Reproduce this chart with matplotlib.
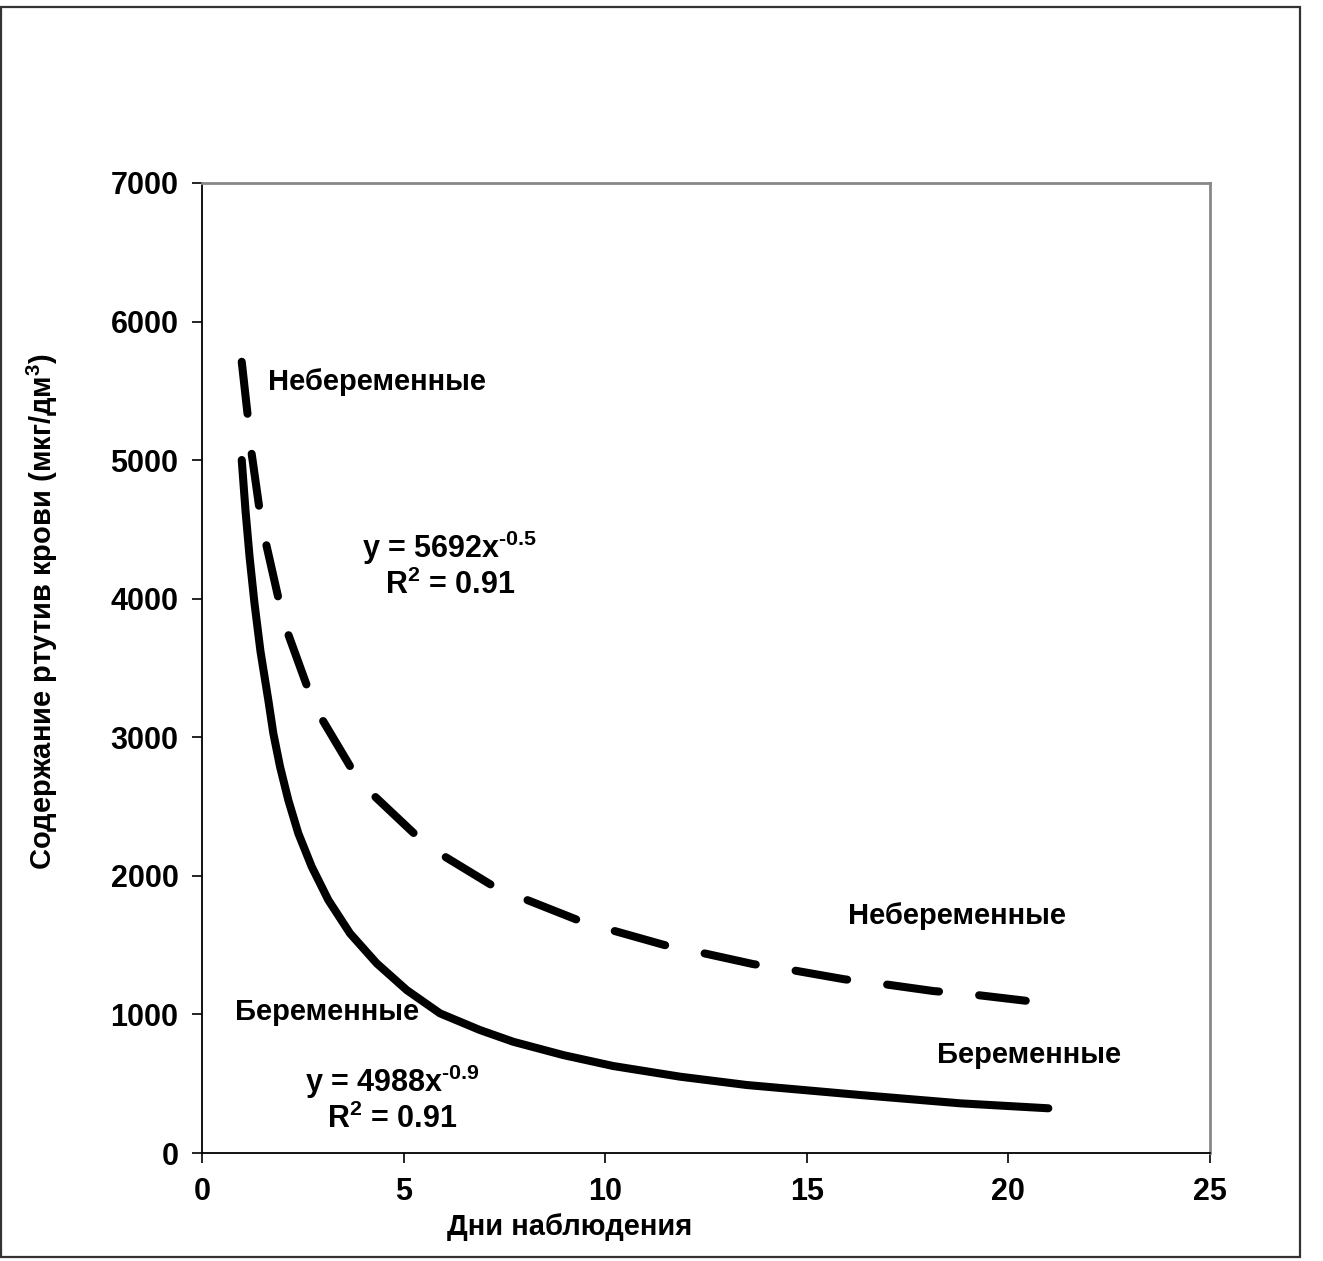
import matplotlib
matplotlib.use('Agg')
import matplotlib.pyplot as plt
from matplotlib.patches import Rectangle

plt.rcParams['font.family'] = ['Liberation Sans', 'DejaVu Sans']
plt.rcParams['font.weight'] = 'bold'
plt.rcParams['mathtext.fontset'] = 'custom'
plt.rcParams['mathtext.rm'] = 'Liberation Sans:bold'
plt.rcParams['mathtext.it'] = 'Liberation Sans:bold'
plt.rcParams['mathtext.bf'] = 'Liberation Sans:bold'
plt.rcParams['mathtext.default'] = 'rm'

# Небеременные (пунктир), точки
nonpreg_x = [0.985, 1.15, 1.23, 1.44, 1.59, 1.92, 2.13, 2.64, 2.99, 3.73, 4.25,
             5.30, 5.96, 7.18, 7.96, 9.28, 10.09, 11.47, 12.27, 13.66, 14.52,
             15.93, 16.76, 18.14, 19.03, 20.43]
nonpreg_y = [5710, 5277, 5049, 4616, 4395, 3971, 3750, 3341, 3124, 2763, 2583,
             2295, 2150, 1934, 1838, 1686, 1614, 1501, 1453, 1364, 1326,
             1254, 1225, 1169, 1147, 1099]

# Беременные (сплошная)
preg_x = [0.985, 1.08, 1.18, 1.30, 1.45, 1.644, 1.768, 1.935, 2.14, 2.388, 2.721,
          3.132, 3.671, 4.333, 5.077, 5.903, 6.89, 7.72, 8.96, 10.20, 11.86,
          13.51, 16.32, 18.80, 20.99]
preg_y = [5001, 4630, 4300, 3970, 3620, 3269, 3029, 2788, 2547, 2307, 2066,
          1826, 1585, 1369, 1176, 1008, 888, 803, 707, 628, 551,
          491, 419, 359, 323]

x_ticks = [0, 5, 10, 15, 20, 25]
y_ticks = [0, 1000, 2000, 3000, 4000, 5000, 6000, 7000]

fig = plt.figure(figsize=(13.23, 12.61), dpi=100)
ax = fig.add_axes([0.1527, 0.0856, 0.7619, 0.7693])

# внешняя рамка
fig.patches.append(Rectangle((0.0008, 0.0032), 0.9818, 0.9912, transform=fig.transFigure,
                             fill=False, edgecolor='#333333', linewidth=1.6))

ax.plot(nonpreg_x, nonpreg_y, color='black', linewidth=5.8, linestyle=(0, (6.5, 5)),
        dash_capstyle='round', solid_capstyle='round', solid_joinstyle='round')
ax.plot(preg_x, preg_y, color='black', linewidth=5.8, solid_capstyle='round',
        solid_joinstyle='round')

ax.set_xlim(0, 25)
ax.set_ylim(0, 7000)
ax.set_xticks(x_ticks)
ax.set_yticks(y_ticks)
ax.tick_params(direction='out', length=7, width=1.2, labelsize=22, pad=10,
               top=False, right=False)
for lab in ax.get_xticklabels() + ax.get_yticklabels():
    lab.set_fontweight('bold')

for s in ['left', 'bottom']:
    ax.spines[s].set_color('black')
    ax.spines[s].set_linewidth(1.3)
for s in ['top', 'right']:
    ax.spines[s].set_color('#888888')
    ax.spines[s].set_linewidth(2)

ax.set_xlabel('Дни наблюдения', fontsize=21, fontweight='bold')
ax.set_ylabel('Содержание ртутив крови (мкг/дм$^{3}$)', fontsize=21, fontweight='bold')
ax.xaxis.set_label_coords(0.365, -0.062)
ax.yaxis.set_label_coords(-0.141, 0.558)

ax.text(1.64, 5564, 'Небеременные', fontsize=21, fontweight='bold', ha='left', va='center')
ax.text(6.15, 4243, r'y = 5692x$^{\text{-0.5}}$' + '\n' + r'R$^{2}$ = 0.91', fontsize=22,
        fontweight='bold', ha='center', va='center', linespacing=1.1)
ax.text(16.02, 1710, 'Небеременные', fontsize=21, fontweight='bold', ha='left', va='center')
ax.text(0.82, 1018, 'Беременные', fontsize=21, fontweight='bold', ha='left', va='center')
ax.text(4.71, 390, r'y = 4988x$^{\text{-0.9}}$' + '\n' + r'R$^{2}$ = 0.91', fontsize=22,
        fontweight='bold', ha='center', va='center', linespacing=1.1)
ax.text(18.23, 707, 'Беременные', fontsize=21, fontweight='bold', ha='left', va='center')

fig.savefig('out.png', dpi=100)
